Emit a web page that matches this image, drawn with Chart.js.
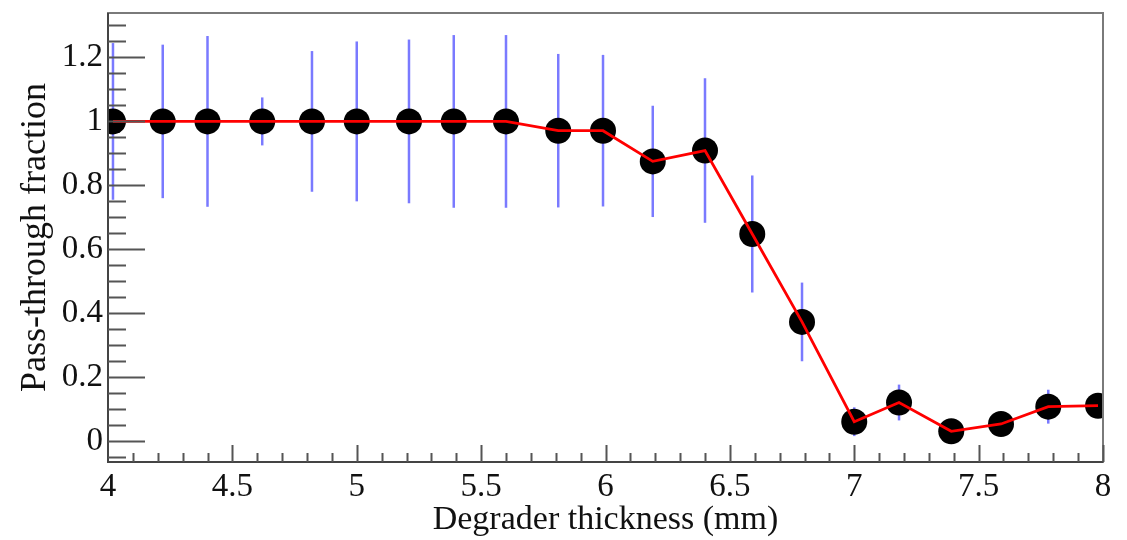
<!DOCTYPE html>
<html>
<head>
<meta charset="utf-8">
<script src="https://cdn.jsdelivr.net/npm/chart.js@4.4.1/dist/chart.umd.min.js"></script>
<style>
  body { margin: 0; background: #fff; }
  #wrap { width: 1127px; height: 540px; }
</style>
</head>
<body>
<div id="wrap"><canvas id="myChart" width="1127" height="540"></canvas></div>
<script>
// values
const thickness = [4.02, 4.22, 4.40, 4.62, 4.82, 5.00, 5.21, 5.39, 5.60, 5.81, 5.99, 6.19, 6.40, 6.59, 6.79, 7.00, 7.18, 7.39, 7.59, 7.78, 7.98];
const fraction = [1, 1, 1, 1, 1, 1, 1, 1, 1, 0.971, 0.971, 0.875, 0.909, 0.648, 0.373, 0.061, 0.121, 0.031, 0.054, 0.108, 0.111];
const fractionErr = [0.245, 0.24, 0.267, 0.075, 0.22, 0.25, 0.256, 0.27, 0.27, 0.24, 0.237, 0.174, 0.226, 0.183, 0.123, 0.045, 0.056, 0.03, 0.03, 0.053, 0.03];

const xTicks = [4, 4.5, 5, 5.5, 6, 6.5, 7, 7.5, 8];
const yTicks = [0, 0.2, 0.4, 0.6, 0.8, 1, 1.2];

const points = thickness.map((x, i) => ({x: x, y: fraction[i]}));
const serif = "'Liberation Serif', 'DejaVu Serif', serif";

// blue vertical error bars, drawn under the markers
const errorBars = {
  id: 'errorBars',
  beforeDatasetsDraw(chart) {
    const c = chart.ctx, xs = chart.scales.x, ys = chart.scales.y, a = chart.chartArea;
    c.save();
    c.beginPath();
    c.rect(a.left, a.top, a.right - a.left, a.bottom - a.top);
    c.clip();
    c.strokeStyle = 'rgba(70,70,255,0.72)';
    c.lineWidth = 2.5;
    thickness.forEach((x, i) => {
      const px = xs.getPixelForValue(x);
      c.beginPath();
      c.moveTo(px, ys.getPixelForValue(fraction[i] + fractionErr[i]));
      c.lineTo(px, ys.getPixelForValue(fraction[i] - fractionErr[i]));
      c.stroke();
    });
    c.restore();
  }
};

// ROOT style frame with ticks pointing inward
const frame = {
  id: 'frame',
  afterDatasetsDraw(chart) {
    const c = chart.ctx, xs = chart.scales.x, ys = chart.scales.y, a = chart.chartArea;
    c.save();
    c.lineWidth = 2;
    c.strokeStyle = '#7a7a7a';
    c.strokeRect(a.left, a.top, a.right - a.left, a.bottom - a.top);
    c.strokeStyle = '#444';
    c.beginPath();
    c.moveTo(a.left, a.top);
    c.lineTo(a.left, a.bottom);
    c.lineTo(a.right, a.bottom);
    c.stroke();
    c.strokeStyle = '#555';
    c.beginPath();
    for (let k = -1; k <= 26; k++) {
      const v = k * 0.05;
      if (v < ys.min || v > ys.max) continue;
      const py = Math.round(ys.getPixelForValue(v)) + 0.5;
      const len = (k % 4 === 0) ? 37 : 18;
      c.moveTo(a.left, py);
      c.lineTo(a.left + len, py);
    }
    for (let k = 41; k <= 80; k++) {
      const v = k / 10;
      const px = Math.round(xs.getPixelForValue(v)) + 0.5;
      const len = (k % 5 === 0) ? 17 : 9;
      c.moveTo(px, a.bottom);
      c.lineTo(px, a.bottom - len);
    }
    c.stroke();
    c.restore();
  }
};

new Chart(document.getElementById('myChart'), {
  type: 'scatter',
  data: {
    datasets: [{
      label: 'line',
      data: points,
      showLine: true,
      borderColor: '#ff0000',
      borderWidth: 2.8,
      pointRadius: 0,
      tension: 0,
      clip: 0,
      order: 1
    }, {
      label: 'points',
      data: points,
      showLine: false,
      pointRadius: 13,
      pointBorderWidth: 0,
      backgroundColor: '#000',
      borderColor: '#000',
      clip: 0,
      order: 2
    }]
  },
  options: {
    responsive: false,
    animation: false,
    events: [],
    layout: { padding: { top: 10, right: 24, left: 0, bottom: 0 } },
    plugins: { legend: { display: false }, tooltip: { enabled: false } },
    scales: {
      x: {
        type: 'linear',
        min: 4,
        max: 8,
        grid: { display: false, drawTicks: false },
        border: { display: false },
        afterBuildTicks: s => { s.ticks = xTicks.map(v => ({value: v})); },
        afterFit: s => { s.height = 78; s.paddingLeft = 0; s.paddingRight = 0; },
        ticks: {
          padding: 6,
          maxRotation: 0,
          color: '#111',
          font: { family: serif, size: 33 },
          callback: v => String(v)
        },
        title: {
          display: true,
          text: 'Degrader thickness (mm)',
          color: '#111',
          font: { family: serif, size: 34 },
          padding: { top: 0, bottom: 0 }
        }
      },
      y: {
        min: -0.065,
        max: 1.339,
        grid: { display: false, drawTicks: false },
        border: { display: false },
        afterBuildTicks: s => { s.ticks = yTicks.map(v => ({value: v})); },
        afterFit: s => { s.width = 108; s.paddingTop = 0; s.paddingBottom = 0; },
        ticks: {
          padding: 5,
          color: '#111',
          font: { family: serif, size: 33 },
          callback: v => String(v)
        },
        title: {
          display: true,
          text: 'Pass-through fraction',
          color: '#111',
          font: { family: serif, size: 36 },
          padding: { top: 14, bottom: 0 }
        }
      }
    }
  },
  plugins: [errorBars, frame]
});
</script>
</body>
</html>
